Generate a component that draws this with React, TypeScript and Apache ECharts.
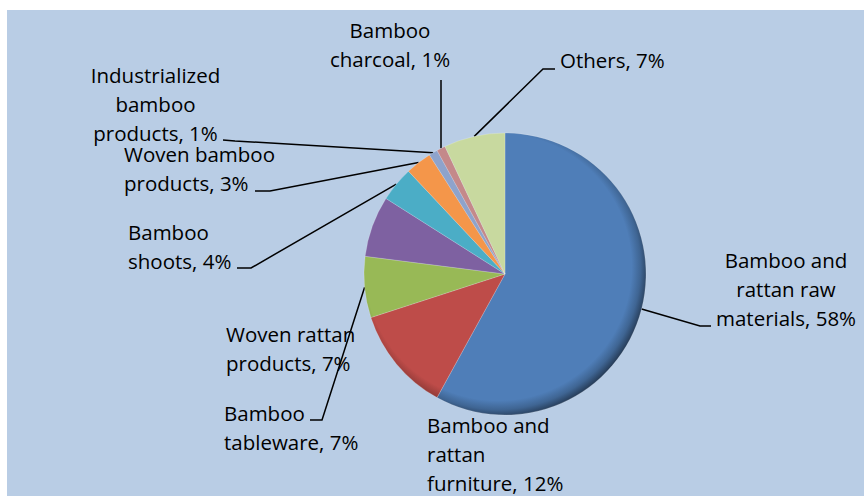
import React, { useEffect, useRef } from 'react';
import * as echarts from 'echarts';

// ---- data ----
const CATEGORIES = [
  'Bamboo and\nrattan raw\nmaterials',
  'Bamboo and\nrattan\nfurniture',
  'Bamboo\ntableware',
  'Woven rattan\nproducts',
  'Bamboo\nshoots',
  'Woven bamboo\nproducts',
  'Industrialized\nbamboo\nproducts',
  'Bamboo\ncharcoal',
  'Others',
];
const VALUES = [58, 12, 7, 7, 4, 3, 1, 1, 7];

// ---- styles / layout ----
const COLORS = ['#4F7EB8', '#BE4C49', '#98B956', '#7E61A1', '#4BADC6', '#F4964A', '#8EA3CB', '#C4898A', '#C8D99F'];
const CX = 505;
const CY = 274;
const R = 141;

type LL = { x: number; y: number; align: string; elbow?: number[]; end?: number[] };
const LABEL_LAYOUT: LL[] = [
  { x: 786, y: 245.5, align: 'center', elbow: [700, 326], end: [711, 326] },
  { x: 427, y: 410.5, align: 'left' },
  { x: 224, y: 398.5, align: 'left', elbow: [322, 420], end: [310, 420] },
  { x: 226, y: 319.5, align: 'left' },
  { x: 128, y: 217.5, align: 'left', elbow: [251, 268], end: [237, 268] },
  { x: 124, y: 139.5, align: 'left', elbow: [270, 191], end: [255, 191] },
  { x: 155.5, y: 60.5, align: 'center', elbow: [235, 141], end: [223, 140] },
  { x: 390, y: 15.5, align: 'center', elbow: [441, 80], end: [441, 80] },
  { x: 560, y: 45.5, align: 'left', elbow: [543, 69], end: [555, 69] },
];

function shade(hex: string, f: number): string {
  const n = parseInt(hex.slice(1), 16);
  const r = Math.round(((n >> 16) & 255) * f);
  const g = Math.round(((n >> 8) & 255) * f);
  const b = Math.round((n & 255) * f);
  return `rgb(${r},${g},${b})`;
}

export default function App() {
  const ref = useRef<HTMLDivElement>(null);
  useEffect(() => {
    if (!ref.current) return;
    const chart = echarts.init(ref.current, null, { renderer: 'svg' });
    const total = VALUES.reduce((a, b) => a + b, 0);
    const mids: number[] = [];
    let acc = 0;
    VALUES.forEach((v) => {
      mids.push(((acc + v / 2) / total) * Math.PI * 2);
      acc += v;
    });
    const rim = (i: number) => [CX + R * Math.sin(mids[i]), CY - R * Math.cos(mids[i])];
    const GOFF = 7;

    chart.setOption({
      animation: false,
      graphic: [
        {
          type: 'rect',
          z: -10,
          silent: true,
          shape: { x: 7, y: 10, width: 857, height: 486 },
          style: { fill: '#B9CDE5' },
        },
      ],
      series: [
        {
          type: 'pie',
          center: [CX, CY],
          radius: R,
          startAngle: 90,
          clockwise: true,
          avoidLabelOverlap: false,
          percentPrecision: 0,
          emphasis: { disabled: true },
          itemStyle: { borderColor: 'rgba(255,255,255,0.3)', borderWidth: 0.6 },
          data: VALUES.map((v, i) => ({
            value: v,
            name: CATEGORIES[i],
            itemStyle: {
              color: new echarts.graphic.RadialGradient(
                CX - GOFF,
                CY - GOFF,
                R + GOFF * 1.3,
                [
                  { offset: 0, color: COLORS[i] },
                  { offset: 0.89, color: COLORS[i] },
                  { offset: 0.95, color: shade(COLORS[i], 0.8) },
                  { offset: 1, color: shade(COLORS[i], 0.5) },
                ],
                true
              ),
            },
            labelLine: { show: !!LABEL_LAYOUT[i].end },
          })),
          label: {
            show: true,
            position: 'outside',
            formatter: (p: any) => `${p.name}, ${p.percent}%`,
            fontFamily: 'Open Sans',
            fontSize: 20.5,
            lineHeight: 29,
            color: '#000',
            overflow: 'none',
          },
          labelLine: {
            show: true,
            length: 10,
            length2: 10,
            lineStyle: { color: '#000', width: 1.5 },
          },
          labelLayout: (params: any) => {
            const i = params.dataIndex;
            const L = LABEL_LAYOUT[i];
            const out: any = { x: L.x, y: L.y, align: L.align, verticalAlign: 'top' };
            if (L.end && L.elbow) out.labelLinePoints = [rim(i), L.elbow, L.end];
            return out;
          },
        },
      ],
    });
    return () => chart.dispose();
  }, []);
  return <div ref={ref} style={{ position: 'absolute', left: 0, top: 0, width: 864, height: 496 }} />;
}
